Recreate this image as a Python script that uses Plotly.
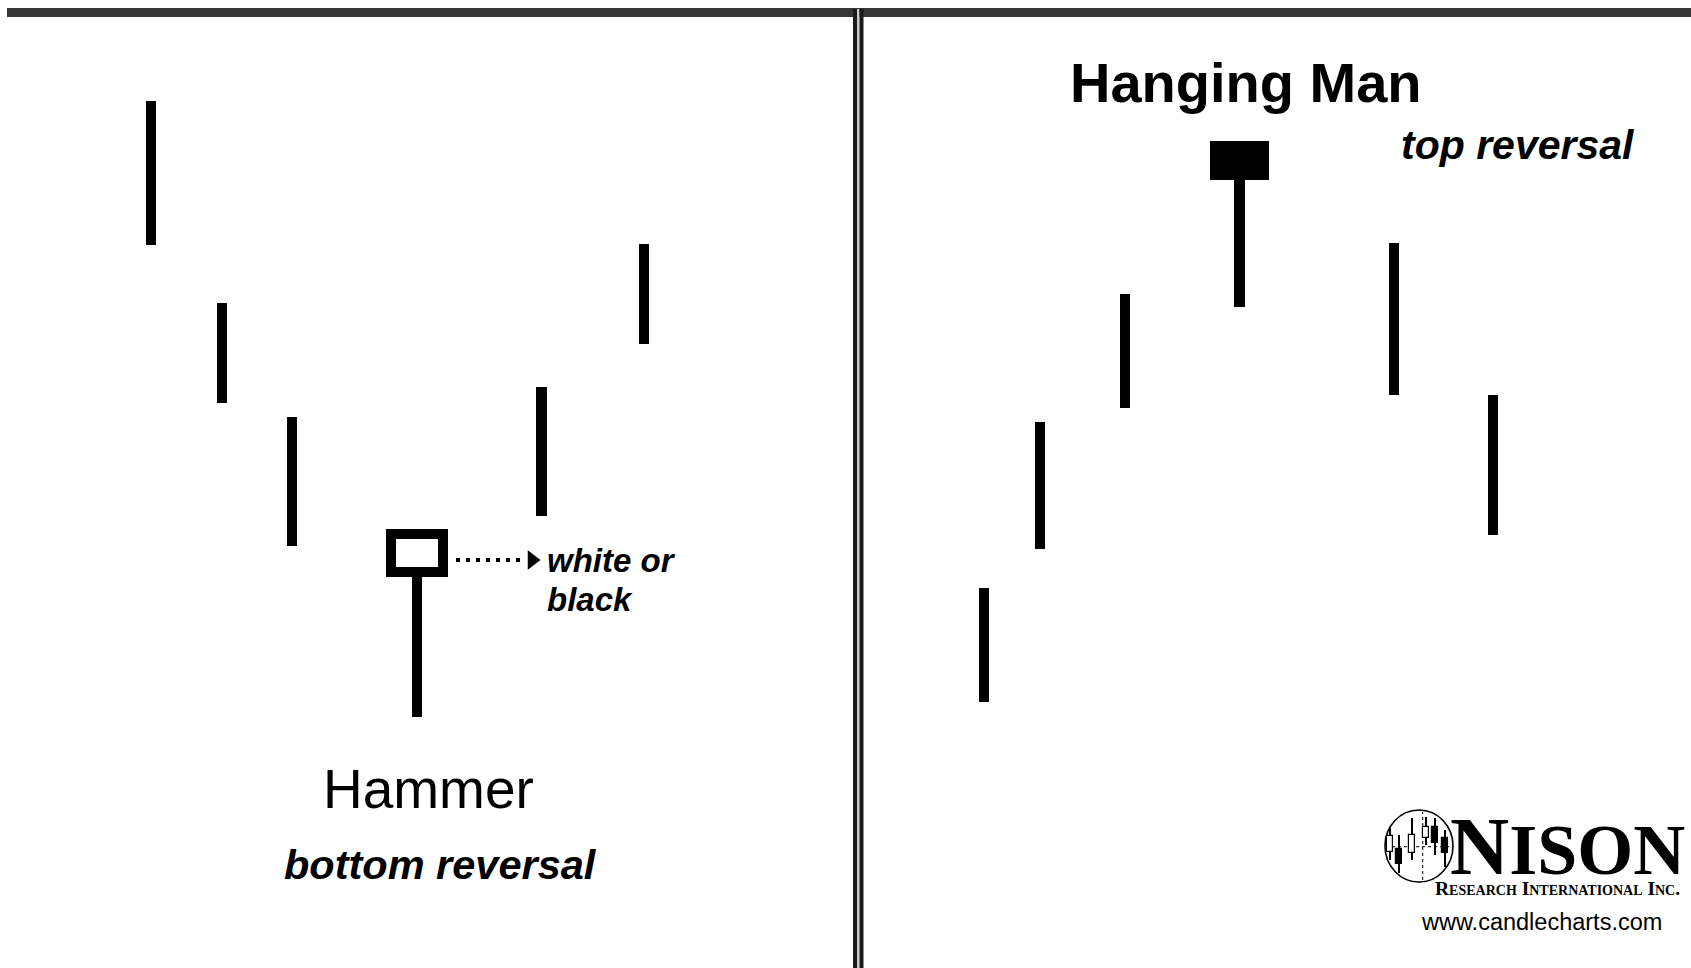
import plotly.graph_objects as go

# price bars (x in page units, prices on a 0-96.8 scale)
left_x = [151, 222, 292, 541.5, 644]
left_high = [86.7, 66.5, 55.1, 58.1, 72.4]
left_low = [72.3, 56.5, 42.2, 45.2, 62.4]

right_x = [984, 1040, 1125, 1394, 1493]
right_high = [38.0, 54.6, 67.4, 72.5, 57.3]
right_low = [26.6, 41.9, 56.0, 57.3, 43.3]

# hammer (white body) and hanging man (black body)
hammer = dict(x=417, open=39.6, close=43.4, low=25.1)
hanging = dict(x=1239.5, open=82.7, close=78.8, low=66.1)

# arrow "white or black"
arrow_x = [456, 522]
arrow_y = 40.8

# small candles inside the logo
logo_x = [1390, 1399, 1412, 1426, 1435, 1445]
logo_open = [11.6, 11.9, 11.5, 13.0, 14.1, 13.0]
logo_close = [13.2, 10.4, 13.3, 14.1, 12.5, 11.5]
logo_high = [14.0, 13.3, 15.0, 15.1, 15.0, 13.8]
logo_low = [10.8, 9.5, 10.8, 12.3, 11.3, 10.1]

W, H = 1691, 968
SANS = "Liberation Sans, Arial, sans-serif"
SERIF = "Liberation Serif, Times New Roman, serif"

fig = go.Figure()

# plain bars plus the shadows of the two special candles
wick_x = left_x + right_x + [hammer['x'], hanging['x']]
wick_low = left_low + right_low + [hammer['low'], hanging['low']]
wick_high = left_high + right_high + [min(hammer['open'], hammer['close']),
                                      min(hanging['open'], hanging['close'])]
fig.add_trace(go.Bar(
    x=wick_x,
    base=wick_low,
    y=[h - l for h, l in zip(wick_high, wick_low)],
    width=10.5,
    marker=dict(color='black', line=dict(width=0)),
))

# hammer body
fig.add_trace(go.Bar(
    x=[hammer['x']],
    base=[min(hammer['open'], hammer['close'])],
    y=[abs(hammer['close'] - hammer['open'])],
    width=51.4,
    marker=dict(color='white', line=dict(color='black', width=10)),
))

# hanging man body
fig.add_trace(go.Bar(
    x=[hanging['x']],
    base=[min(hanging['open'], hanging['close'])],
    y=[abs(hanging['close'] - hanging['open'])],
    width=58.4,
    marker=dict(color='black', line=dict(width=0)),
))

# dotted arrow
fig.add_trace(go.Scatter(
    x=arrow_x, y=[arrow_y] * 2, mode='lines',
    line=dict(color='black', width=4, dash='4px,6px'),
))
fig.add_trace(go.Scatter(
    x=[arrow_x[1] + 10], y=[arrow_y], mode='markers',
    marker=dict(symbol='triangle-right', size=17, color='black'),
))

# logo candles
fig.add_trace(go.Bar(
    x=logo_x, base=logo_low,
    y=[h - l for h, l in zip(logo_high, logo_low)],
    width=1.6,
    marker=dict(color='black', line=dict(width=0)),
))
fig.add_trace(go.Bar(
    x=logo_x,
    base=[min(o, c) for o, c in zip(logo_open, logo_close)],
    y=[abs(c - o) for o, c in zip(logo_open, logo_close)],
    width=5.5,
    marker=dict(color=['white' if c > o else 'black' for o, c in zip(logo_open, logo_close)],
                line=dict(color='black', width=1.2)),
))

shapes = [
    # scanned top border
    dict(type='rect', xref='paper', yref='paper', x0=7 / W, x1=1, y0=1 - 17 / H, y1=1 - 8 / H,
         fillcolor='#363636', line=dict(width=0), layer='above'),
    # double divider
    dict(type='rect', xref='paper', yref='paper', x0=853 / W, x1=857 / W, y0=0, y1=1 - 9 / H,
         fillcolor='#1a1a1a', line=dict(width=0)),
    dict(type='rect', xref='paper', yref='paper', x0=857 / W, x1=859.5 / W, y0=0, y1=1 - 9 / H,
         fillcolor='#c8c8c8', line=dict(width=0)),
    dict(type='rect', xref='paper', yref='paper', x0=859.5 / W, x1=863.5 / W, y0=0, y1=1 - 9 / H,
         fillcolor='#1a1a1a', line=dict(width=0)),
    # logo circle and crosshair
    dict(type='circle', xref='x', yref='y', x0=1385, x1=1453, y0=8.6, y1=15.8,
         line=dict(color='black', width=1.6)),
    dict(type='line', xref='x', yref='y', x0=1386, x1=1452, y0=12.13, y1=12.13,
         line=dict(color='black', width=1, dash='dot'), layer='below'),
    dict(type='line', xref='x', yref='y', x0=1422.7, x1=1422.7, y0=8.8, y1=15.6,
         line=dict(color='black', width=1, dash='dot'), layer='below'),
]

annotations = [
    dict(x=1245.5, y=88.6, text='<b>Hanging Man</b>', font=dict(family=SANS, size=56)),
    dict(x=1518, y=82.3, text='<b><i>top reversal</i></b>', font=dict(family=SANS, size=41)),
    dict(x=428, y=17.9, text='Hammer', font=dict(family=SANS, size=55)),
    dict(x=440.5, y=10.4, text='<b><i>bottom reversal</i></b>', font=dict(family=SANS, size=41.5)),
    dict(x=545, y=40.8, text='<b><i>white or</i></b>', font=dict(family=SANS, size=33), xanchor='left'),
    dict(x=545, y=36.9, text='<b><i>black</i></b>', font=dict(family=SANS, size=33), xanchor='left'),
    # logo text
    dict(x=1449, y=12.15, text="<b>N<span style='font-size:72px'>ISON</span></b>",
         font=dict(family=SERIF, size=82), xanchor='left', borderpad=0),
    dict(x=1434, y=7.95, text='<b>Research International Inc.</b>',
         font=dict(family=SERIF, size=19.5, variant='small-caps'), xanchor='left', borderpad=0),
    dict(x=1541, y=4.6, text='www.candlecharts.com', font=dict(family=SANS, size=23.5)),
]
for a in annotations:
    a.update(xref='x', yref='y', showarrow=False)
    a['font']['color'] = 'black'
    a.setdefault('xanchor', 'center')
    a.setdefault('yanchor', 'middle')

fig.update_layout(
    width=W, height=H,
    margin=dict(l=0, r=0, t=0, b=0),
    paper_bgcolor='white',
    plot_bgcolor='white',
    barmode='overlay',
    bargap=0,
    showlegend=False,
    shapes=shapes,
    annotations=annotations,
    xaxis=dict(range=[0, W], visible=False, fixedrange=True),
    yaxis=dict(range=[0, H / 10], visible=False, fixedrange=True),
)

fig.write_html("out.html", config={'displayModeBar': False},
               post_script="document.body.style.margin='0';document.body.style.overflow='hidden';")
